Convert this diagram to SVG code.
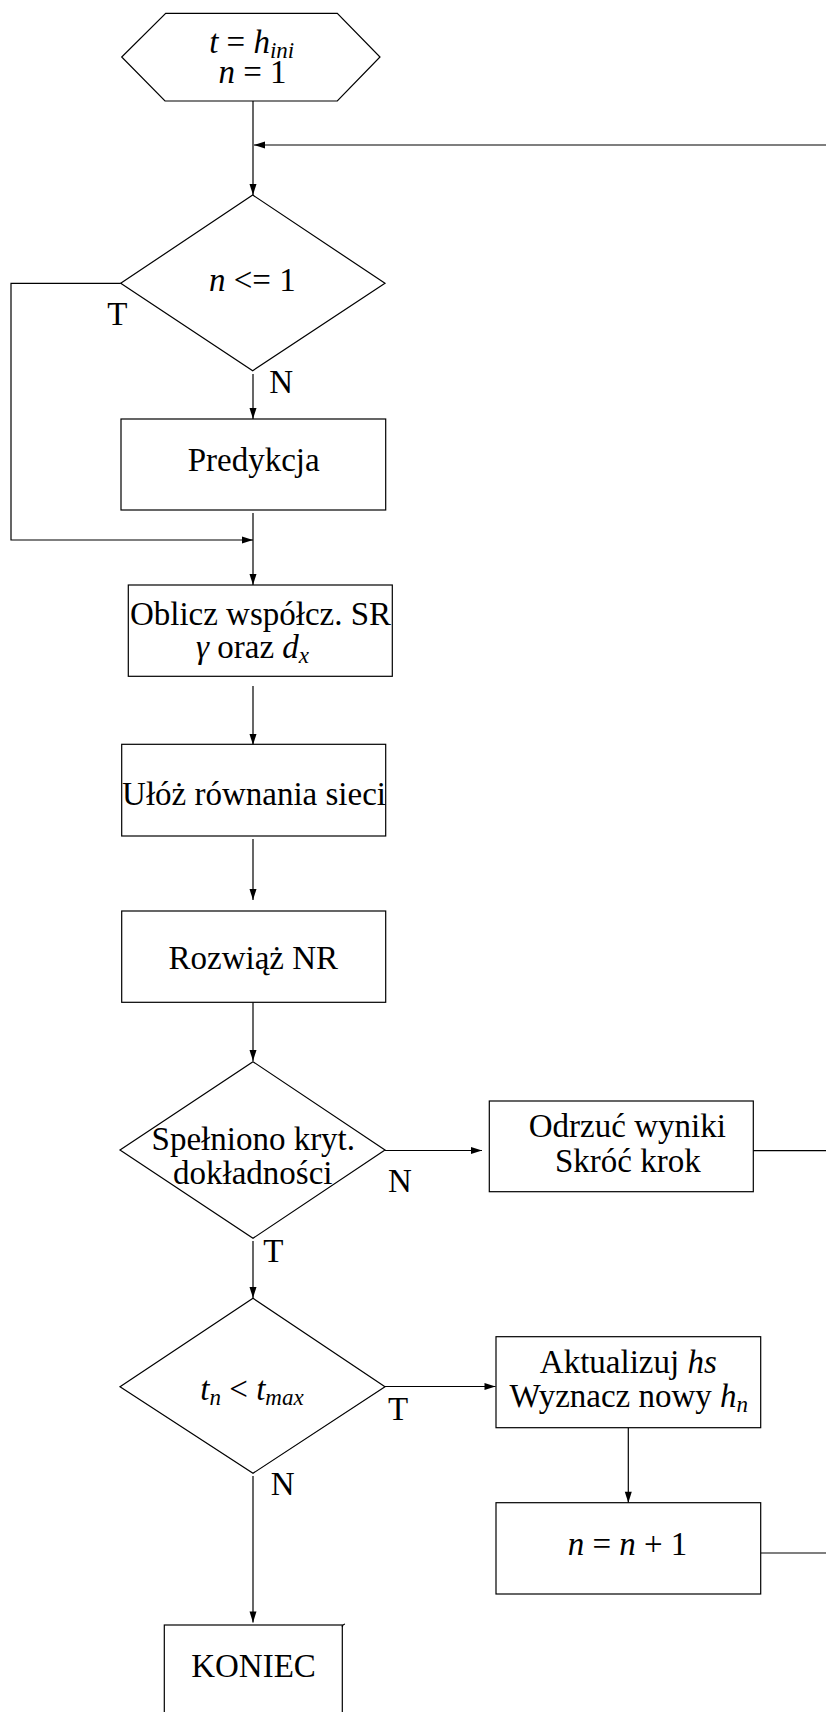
<svg xmlns="http://www.w3.org/2000/svg" width="826" height="1712" viewBox="0 0 826 1712">
<style>
.shape{fill:#fff;stroke:#000;stroke-width:1.2}
.conn{fill:none;stroke:#000;stroke-width:1.2}
text{font-family:"Liberation Serif","Times New Roman",serif;font-size:33px;fill:#000}
.c{text-anchor:middle}
.i{font-style:italic}
.sub{font-size:23px;font-style:italic}
</style>
<defs>
<marker id="arr" markerUnits="userSpaceOnUse" markerWidth="11" markerHeight="7" refX="11" refY="3.5" orient="auto" overflow="visible">
<path d="M0,0 L11,3.5 L0,7 z" fill="#000"/>
</marker>
</defs>
<rect width="826" height="1712" fill="#fff"/>

<g id="connectors">
<path class="conn" d="M253,101 V195" marker-end="url(#arr)"/>
<path class="conn" d="M826,145 H254" marker-end="url(#arr)"/>
<path class="conn" d="M120.7,283.3 H11 V540 H253" marker-end="url(#arr)"/>
<path class="conn" d="M253,374 V419" marker-end="url(#arr)"/>
<path class="conn" d="M253,513 V585" marker-end="url(#arr)"/>
<path class="conn" d="M253,686 V745" marker-end="url(#arr)"/>
<path class="conn" d="M253,839 V900" marker-end="url(#arr)"/>
<path class="conn" d="M253,1002 V1061" marker-end="url(#arr)"/>
<path class="conn" d="M385,1150.5 H482" marker-end="url(#arr)"/>
<path class="conn" d="M753,1150.7 H837" marker-end="url(#arr)"/>
<path class="conn" d="M253,1241 V1298" marker-end="url(#arr)"/>
<path class="conn" d="M385,1386.5 H495.5" marker-end="url(#arr)"/>
<path class="conn" d="M628.3,1428 V1502.7" marker-end="url(#arr)"/>
<path class="conn" d="M760.7,1553 H826"/>
<path class="conn" d="M253,1476 V1622.5" marker-end="url(#arr)"/>
</g>

<g id="start">
<polygon class="shape" points="165.7,13.3 337.3,13.3 380,57 337.3,101 165,101 121.7,57"/>
<text class="c" x="251.7" y="53"><tspan class="i">t</tspan> = <tspan class="i">h</tspan><tspan class="sub" dy="5">ini</tspan></text>
<text class="c" x="252.5" y="82.7"><tspan class="i">n</tspan> = 1</text>
</g>

<g id="dec1">
<polygon class="shape" points="252.7,195 385,283.3 252.7,370.7 120.7,283.3"/>
<text class="c" x="252.3" y="291"><tspan class="i">n</tspan> &lt;= 1</text>
<text x="107.3" y="325">T</text>
<text x="269.3" y="393.3">N</text>
</g>

<g id="predykcja">
<rect class="shape" x="121" y="419" width="264.7" height="91"/>
<text class="c" x="253.7" y="470.7">Predykcja</text>
</g>

<g id="oblicz">
<rect class="shape" x="128.3" y="585" width="264" height="91.3"/>
<text class="c" x="260.5" y="625">Oblicz współcz. SR</text>
<text class="c" x="252.5" y="658"><tspan class="i">γ</tspan> oraz <tspan class="i">d</tspan><tspan class="sub" dy="5">x</tspan></text>
</g>

<g id="uloz">
<rect class="shape" x="121.7" y="744.3" width="264" height="91.7"/>
<text class="c" x="254" y="805">Ułóż równania sieci</text>
</g>

<g id="rozwiaz">
<rect class="shape" x="121.7" y="911" width="264" height="91.3"/>
<text class="c" x="253.3" y="969">Rozwiąż NR</text>
</g>

<g id="dec2">
<polygon class="shape" points="253,1061.7 385,1150 253,1238.3 120,1150"/>
<text class="c" x="253.3" y="1150">Spełniono kryt.</text>
<text class="c" x="252.8" y="1184">dokładności</text>
<text x="388" y="1191.7">N</text>
<text x="263.3" y="1262">T</text>
</g>

<g id="odrzuc">
<rect class="shape" x="489.3" y="1101" width="264" height="90.7"/>
<text class="c" x="627.3" y="1136.7">Odrzuć wyniki</text>
<text class="c" x="627.8" y="1171.7">Skróć krok</text>
</g>

<g id="dec3">
<polygon class="shape" points="253,1298.3 385,1386.7 253,1473.3 120,1386.7"/>
<text class="c" x="252" y="1400"><tspan class="i">t</tspan><tspan class="sub" dy="5">n</tspan><tspan dy="-5"> &lt; </tspan><tspan class="i">t</tspan><tspan class="sub" dy="5">max</tspan></text>
<text x="388" y="1420">T</text>
<text x="270.7" y="1495">N</text>
</g>

<g id="aktualizuj">
<rect class="shape" x="496" y="1336.7" width="264.7" height="91"/>
<text class="c" x="628.3" y="1373.3">Aktualizuj <tspan class="i">hs</tspan></text>
<text class="c" x="628.8" y="1406.7">Wyznacz nowy <tspan class="i">h</tspan><tspan class="sub" dy="5">n</tspan></text>
</g>

<g id="inc">
<rect class="shape" x="496" y="1502.7" width="264.7" height="91.3"/>
<text class="c" x="627.5" y="1555"><tspan class="i">n</tspan> = <tspan class="i">n</tspan> + 1</text>
</g>

<g id="koniec">
<rect class="shape" x="164.3" y="1625" width="178" height="100"/>
<path class="conn" d="M342.3,1627 Q342.5,1624.5 345,1624"/>
<text class="c" x="253.5" y="1677.3">KONIEC</text>
</g>
</svg>
